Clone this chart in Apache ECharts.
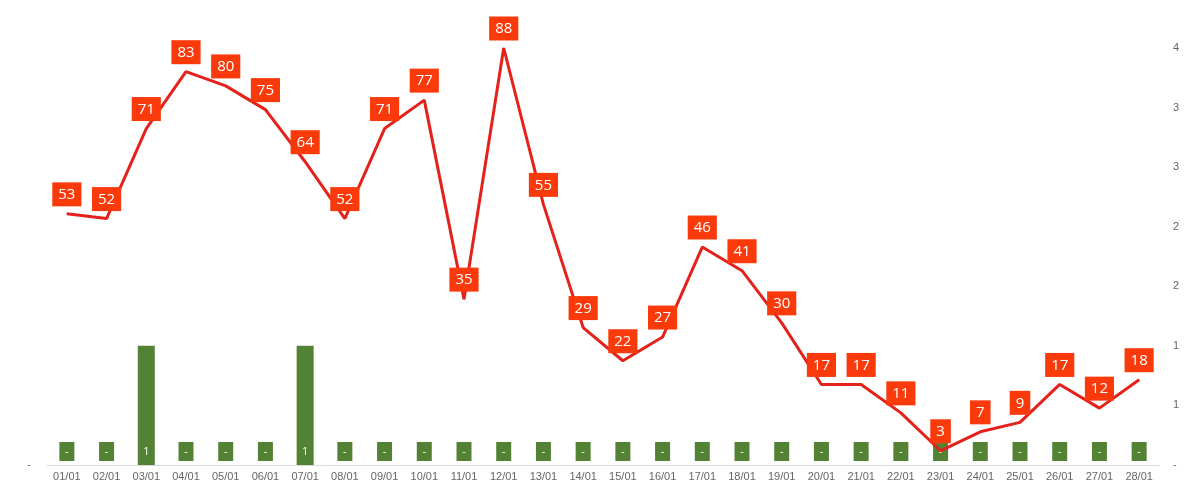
<!DOCTYPE html>
<html>
<head>
<meta charset="utf-8">
<script src="https://cdn.jsdelivr.net/npm/echarts@6/dist/echarts.min.js"></script>
<style>
html,body{margin:0;padding:0;background:#fff;}
#c{width:1200px;height:493px;}
</style>
</head>
<body>
<div id="c"></div>
<script>
const categories = ['01/01','02/01','03/01','04/01','05/01','06/01','07/01','08/01','09/01','10/01','11/01','12/01','13/01','14/01','15/01','16/01','17/01','18/01','19/01','20/01','21/01','22/01','23/01','24/01','25/01','26/01','27/01','28/01'];
const lineValues = [53,52,71,83,80,75,64,52,71,77,35,88,55,29,22,27,46,41,30,17,17,11,3,7,9,17,12,18];
const barValues = [0,0,1,0,0,0,1,0,0,0,0,0,0,0,0,0,0,0,0,0,0,0,0,0,0,0,0,0];
const rightTicks = {min:0, max:3.5, interval:0.5};

const chart = echarts.init(document.getElementById('c'));
chart.setOption({
  backgroundColor:'#ffffff',
  animation:false,
  grid:{left:47, right:41, top:48, bottom:28},
  xAxis:{
    type:'category', data:categories,
    axisLine:{lineStyle:{color:'#d9d9d9', width:1}},
    axisTick:{show:false},
    axisLabel:{color:'#666666', fontSize:11, fontFamily:'Liberation Sans', margin:6}
  },
  yAxis:[
    {type:'value', min:0, max:88, interval:88, position:'left',
     splitLine:{show:false}, axisLine:{show:false}, axisTick:{show:false},
     axisLabel:{color:'#666666', fontSize:11, fontFamily:'Liberation Sans', margin:16,
       formatter:v=> v===0 ? '-' : ''}},
    {type:'value', min:rightTicks.min, max:rightTicks.max, interval:rightTicks.interval, position:'right',
     splitLine:{show:false}, axisLine:{show:false}, axisTick:{show:false},
     axisLabel:{color:'#666666', fontSize:11, fontFamily:'Liberation Sans', margin:14,
       formatter:v=> v===0 ? '-' : String(Math.round(v))}}
  ],
  series:[
    {type:'bar', yAxisIndex:1, data:barValues, barWidth:17,
     itemStyle:{color:'#548235'}, z:2,
     label:{show:true, position:'insideBottom', distance:4,
       formatter:p=> p.value===0 ? '-' : String(p.value),
       color:'#ffffff', fontSize:11, fontFamily:'Open Sans',
       backgroundColor:'#548235', width:15, height:19, lineHeight:19, align:'center', padding:0}},
    {type:'line', yAxisIndex:0, data:lineValues, z:3,
     symbol:'circle', symbolSize:1, showSymbol:true, showAllSymbol:true,
     itemStyle:{color:'#E4211B'},
     lineStyle:{color:'#E4211B', width:3},
     label:{show:true, position:'top', distance:7,
       color:'#ffffff', fontSize:15, lineHeight:17, fontFamily:'Open Sans',
       backgroundColor:'#FA3A0B', padding:[4,6,3,6]}}
  ]
});
</script>
</body>
</html>
